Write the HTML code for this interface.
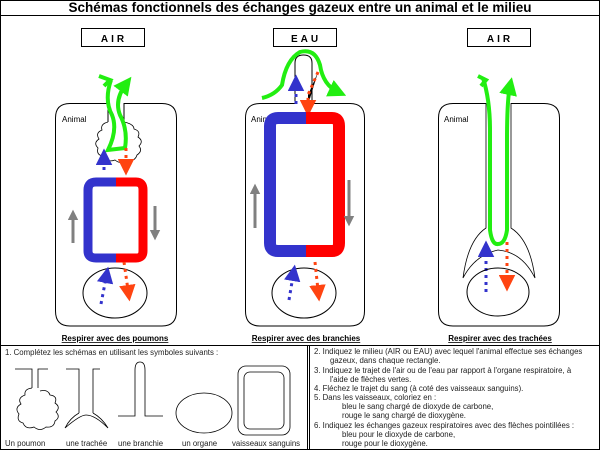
<!DOCTYPE html>
<html><head><meta charset="utf-8"><style>
html,body{margin:0;padding:0;background:#fff;}
svg{display:block;font-family:"Liberation Sans",Arial,sans-serif;}
</style></head><body>
<svg width="600" height="450" viewBox="0 0 600 450" xmlns="http://www.w3.org/2000/svg">
<defs>
<marker id="ga" viewBox="0 0 10 10" refX="5" refY="5" markerWidth="4.5" markerHeight="4.5" orient="auto"><path d="M0,0L10,5L0,10z" fill="#22ee11"/></marker>
<marker id="ba" viewBox="0 0 10 10" refX="3" refY="5" markerWidth="5.5" markerHeight="5.5" orient="auto"><path d="M0,0L10,5L0,10z" fill="#3333cc"/></marker>
<marker id="ra" viewBox="0 0 10 10" refX="3" refY="5" markerWidth="5.5" markerHeight="5.5" orient="auto"><path d="M0,0L10,5L0,10z" fill="#ff4411"/></marker>
<marker id="gr" viewBox="0 0 10 10" refX="2" refY="5" markerWidth="3.5" markerHeight="3.5" orient="auto"><path d="M0,0L10,5L0,10z" fill="#808080"/></marker>
</defs>
<rect x="0.5" y="0.5" width="599" height="449" fill="none" stroke="#000"/>
<line x1="0" y1="15.5" x2="600" y2="15.5" stroke="#000"/>
<text x="300" y="12" font-size="13.5" font-weight="bold" text-anchor="middle">Schémas fonctionnels des échanges gazeux entre un animal et le milieu</text>

<g fill="none" stroke="#000">
<rect x="81.5" y="28.5" width="63" height="18"/>
<rect x="273.5" y="28.5" width="63" height="18"/>
<rect x="467.5" y="28.5" width="63" height="18"/>
</g>
<g font-size="10" font-weight="bold" text-anchor="middle" letter-spacing="3">
<text x="114" y="42">AIR</text><text x="306" y="42">EAU</text><text x="500" y="42">AIR</text>
</g>

<!-- PANEL 1 -->
<path d="M108,103.5 H70 Q55.5,103.5 55.5,118 V311 Q55.5,326 70,326 H162 Q176.5,326 176.5,311 V118 Q176.5,103.5 162,103.5 H124" fill="none" stroke="#000"/>
<path d="M108,103 V122 M124,103 V122" stroke="#000" fill="none"/>
<path d="M108,122 q-8,2 -6,8 q-7,3 -3,9 q-6,4 -1,9 q-2,7 5,8 q4,7 12,4 q6,5 12,0 q8,2 10,-5 q6,-4 2,-9 q5,-5 -1,-9 q3,-6 -4,-8 q0,-5 -10,-7" fill="#fff" stroke="#000" stroke-width="0.8"/>
<text x="62" y="122" font-size="8">Animal</text>
<path d="M111,80 Q104,100 112,115 Q118,130 108,150 L125,148" fill="none" stroke="#22ee11" stroke-width="4"/>
<path d="M99,76 L110,80 L104,86" stroke="#22ee11" stroke-width="4" fill="none"/>
<path d="M125,148 Q128,130 120,115 Q114,100 126,84" fill="none" stroke="#22ee11" stroke-width="4" marker-end="url(#ga)"/>
<path d="M104,170 V160" stroke="#3333cc" stroke-width="3" stroke-dasharray="3,4" marker-end="url(#ba)"/>
<path d="M126,148 V164" stroke="#ff4411" stroke-width="3" stroke-dasharray="3,4" marker-end="url(#ra)"/>
<path d="M116,182 H96 Q88,182 88,190 V251 Q88,258 96,258 H116" fill="none" stroke="#3333cc" stroke-width="9"/>
<path d="M116,182 H136 Q143,182 143,190 V251 Q143,258 136,258 H116" fill="none" stroke="#f00" stroke-width="9"/>
<line x1="73" y1="243" x2="73" y2="218" stroke="#808080" stroke-width="3" marker-end="url(#gr)"/>
<line x1="155" y1="206" x2="155" y2="232" stroke="#808080" stroke-width="3" marker-end="url(#gr)"/>
<ellipse cx="115" cy="293" rx="32" ry="25" fill="none" stroke="#000"/>
<path d="M101,304 L106,278" stroke="#3333cc" stroke-width="3" stroke-dasharray="3,4" marker-end="url(#ba)"/>
<path d="M124,262 L128,290" stroke="#ff4411" stroke-width="3" stroke-dasharray="3,4" marker-end="url(#ra)"/>
<text x="115" y="341" font-size="8" font-weight="bold" text-anchor="middle" text-decoration="underline">Respirer avec des poumons</text>

<!-- PANEL 2 -->
<path d="M295,103.5 H260 Q245.5,103.5 245.5,118 V311 Q245.5,326 260,326 H350 Q364.5,326 364.5,311 V118 Q364.5,103.5 350,103.5 H312 V63 Q312,55 303.5,55 Q295,55 295,63 Z" fill="none" stroke="#000"/>
<text x="251" y="122" font-size="8">Animal</text>
<path d="M262,98 Q275,95 282,85 Q286,60 300,52 Q315,48 320,65 Q323,85 338,92" fill="none" stroke="#22ee11" stroke-width="4" marker-end="url(#ga)"/>
<path d="M296,104 V86" stroke="#3333cc" stroke-width="3" stroke-dasharray="3,4" marker-end="url(#ba)"/>
<path d="M318,72 L308,95 V105" stroke="#ff4411" stroke-width="3" stroke-dasharray="3,4" marker-end="url(#ra)"/>
<path d="M306,118 H278 Q270,118 270,126 V243 Q270,251 278,251 H306" fill="none" stroke="#3333cc" stroke-width="12"/>
<path d="M306,118 H332 Q339,118 339,126 V243 Q339,251 332,251 H306" fill="none" stroke="#f00" stroke-width="12"/>
<line x1="255" y1="228" x2="255" y2="192" stroke="#808080" stroke-width="3" marker-end="url(#gr)"/>
<line x1="349" y1="180" x2="349" y2="218" stroke="#808080" stroke-width="3" marker-end="url(#gr)"/>
<ellipse cx="304" cy="293" rx="32" ry="25" fill="none" stroke="#000"/>
<path d="M289,300 L293,276" stroke="#3333cc" stroke-width="3" stroke-dasharray="3,4" marker-end="url(#ba)"/>
<path d="M315,262 L318,290" stroke="#ff4411" stroke-width="3" stroke-dasharray="3,4" marker-end="url(#ra)"/>
<text x="306" y="341" font-size="8" font-weight="bold" text-anchor="middle" text-decoration="underline">Respirer avec des branchies</text>

<!-- PANEL 3 -->
<path d="M486,103.5 H453 Q438.5,103.5 438.5,118 V311 Q438.5,326 453,326 H544 Q559.5,326 559.5,311 V118 Q559.5,103.5 544,103.5 H511" fill="none" stroke="#000"/>
<path d="M486,103 V228 Q468,240 463,278 Q475,255 498,250 Q522,252 535,278 Q530,240 511,228 V103" fill="none" stroke="#000" stroke-width="0.8"/>
<text x="444" y="122" font-size="8">Animal</text>
<path d="M483,78 Q490,100 490,130 L490,230 Q492,245 498,244 Q505,244 507,230 L507,140 Q507,100 510,86" fill="none" stroke="#22ee11" stroke-width="4" marker-end="url(#ga)"/>
<path d="M478,76 L486,80 L481,86" stroke="#22ee11" stroke-width="4" fill="none"/>
<path d="M486,292 V252" stroke="#3333cc" stroke-width="3" stroke-dasharray="3,4" marker-end="url(#ba)"/>
<path d="M507,242 V280" stroke="#ff4411" stroke-width="3" stroke-dasharray="3,4" marker-end="url(#ra)"/>
<ellipse cx="498" cy="292" rx="31" ry="24" fill="none" stroke="#000"/>
<text x="500" y="341" font-size="8" font-weight="bold" text-anchor="middle" text-decoration="underline">Respirer avec des trachées</text>

<!-- bottom -->
<line x1="0" y1="345.5" x2="600" y2="345.5" stroke="#000"/>
<line x1="307.5" y1="345" x2="307.5" y2="450" stroke="#000"/>
<line x1="309.5" y1="345" x2="309.5" y2="450" stroke="#000"/>
<g font-size="7.8" fill="#222">
<text x="5" y="355">1.    Complétez les schémas en utilisant les symboles suivants :</text>
<text x="5" y="446">Un poumon</text><text x="66" y="446">une trachée</text><text x="118" y="446">une branchie</text><text x="182" y="446">un organe</text><text x="232" y="446">vaisseaux sanguins</text>
<text x="314" y="354">2.  Indiquez le milieu (AIR ou EAU) avec lequel l'animal effectue ses échanges</text>
<text x="330" y="363">gazeux, dans chaque rectangle.</text>
<text x="314" y="373">3.  Indiquez le trajet de l'air ou de l'eau par rapport à l'organe respiratoire, à</text>
<text x="330" y="382">l'aide de flèches vertes.</text>
<text x="314" y="391">4.  Fléchez le trajet du sang (à coté des vaisseaux sanguins).</text>
<text x="314" y="400">5.  Dans les vaisseaux, coloriez en :</text>
<text x="342" y="409">bleu le sang chargé de dioxyde de carbone,</text>
<text x="342" y="418">rouge le sang chargé de dioxygène.</text>
<text x="314" y="428">6.  Indiquez les échanges gazeux respiratoires avec des flèches pointillées :</text>
<text x="342" y="437">bleu pour le dioxyde de carbone,</text>
<text x="342" y="446">rouge pour le dioxygène.</text>
</g>
<g fill="none" stroke="#000" stroke-width="0.8">
<path d="M15,369 H32 V388 M48,369 H38 V388"/>
<path d="M32,388 q-8,1 -7,7 q-8,3 -4,9 q-7,4 -2,10 q-3,7 4,9 q3,7 11,4 q6,5 12,0 q8,1 9,-6 q6,-4 1,-9 q5,-5 -1,-9 q3,-7 -5,-8 q-2,-6 -10,-4"/>
<path d="M66,369 H79 V413 M100,369 H93 V413"/>
<path d="M79,413 Q70,418 65,428 Q80,415 86,415 Q95,415 108,428 Q102,418 93,413"/>
<path d="M118,416 H135 V370 Q135,362 140,362 Q145,362 145,370 V416 H163"/>
<ellipse cx="204" cy="413" rx="28" ry="20"/>
<rect x="238" y="366" width="52" height="69" rx="8"/>
<rect x="244" y="372" width="40" height="57" rx="6"/>
</g>
</svg>
</body></html>
